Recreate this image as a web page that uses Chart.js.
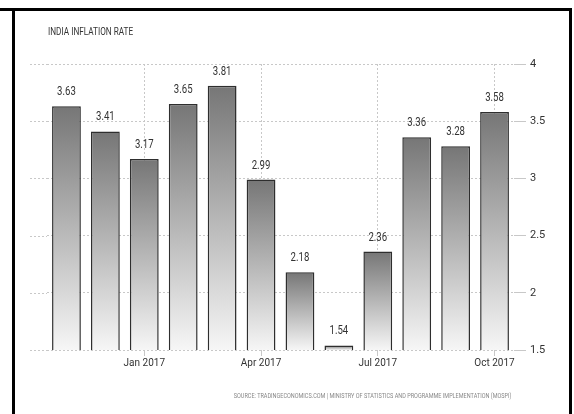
<!DOCTYPE html>
<html>
<head>
<meta charset="utf-8">
<script src="https://cdn.jsdelivr.net/npm/chart.js@4.4.0/dist/chart.umd.min.js"></script>
<style>
  html, body { margin: 0; padding: 0; background: #fff; }
  #wrap { position: relative; width: 574px; height: 414px; overflow: hidden; }
  canvas { position: absolute; left: 0; top: 0; }
  .frame { position: absolute; background: #000; }
  .txt { position: absolute; font-family: "Roboto", "DejaVu Sans", sans-serif; white-space: nowrap; }
  #title { left: 48px; top: 26px; font-size: 10px; color: #333; transform: scaleX(0.82); transform-origin: left top; }
  #source { right: 63px; top: 391px; font-size: 8px; color: #888; transform: scaleX(0.69); transform-origin: right top; }
</style>
</head>
<body>
<div id="wrap">
  <canvas id="chart" width="574" height="414"></canvas>
  <div class="frame" style="left:0;top:8px;width:572px;height:3px"></div>
  <div class="frame" style="left:12px;top:10px;width:3px;height:404px"></div>
  <div class="frame" style="left:569px;top:10px;width:3px;height:404px"></div>
  <div class="txt" id="title">INDIA INFLATION RATE</div>
  <div class="txt" id="source">SOURCE: TRADINGECONOMICS.COM | MINISTRY OF STATISTICS AND PROGRAMME IMPLEMENTATION (MOSPI)</div>
</div>
<script>
const months = ['Nov 2016', 'Dec 2016', 'Jan 2017', 'Feb 2017', 'Mar 2017', 'Apr 2017',
                'May 2017', 'Jun 2017', 'Jul 2017', 'Aug 2017', 'Sep 2017', 'Oct 2017'];
const inflation = [3.63, 3.41, 3.17, 3.65, 3.81, 2.99, 2.18, 1.54, 2.36, 3.36, 3.28, 3.58];
const shownMonths = ['Jan 2017', 'Apr 2017', 'Jul 2017', 'Oct 2017'];
const yTicks = [1.5, 2, 2.5, 3, 3.5, 4];

const FONT = '"Roboto", "DejaVu Sans", sans-serif';
const GRID = '#c8c8c8';

// bar fill: dark at the top of each bar, fading to white at the base
function barFill(c) {
    const chart = c.chart;
    if (!chart.chartArea || !chart.scales.y) return '#999';
    const top = chart.scales.y.getPixelForValue(c.raw);
    const g = chart.ctx.createLinearGradient(0, top, 0, chart.chartArea.bottom);
    g.addColorStop(0, '#767676');
    g.addColorStop(1, '#f6f6f6');
    return g;
}

// horizontal gridlines also run a bit left of the plot
const gridExtend = {
    id: 'gridExtend',
    beforeDatasetsDraw(chart) {
        const c = chart.ctx, y = chart.scales.y, a = chart.chartArea;
        c.save();
        c.strokeStyle = GRID; c.lineWidth = 1; c.setLineDash([2, 2]);
        yTicks.forEach(v => {
            const py = Math.round(y.getPixelForValue(v)) + 0.5;
            c.beginPath(); c.moveTo(30, py); c.lineTo(a.left, py); c.stroke();
        });
        c.restore();
    }
};

// value above each bar, squeezed a little to look like the narrow original font
const valueLabels = {
    id: 'valueLabels',
    afterDatasetsDraw(chart) {
        const c = chart.ctx;
        chart.getDatasetMeta(0).data.forEach((bar, i) => {
            c.save();
            c.translate(bar.x, bar.y - 8);
            c.scale(0.8, 1);
            c.font = '12px ' + FONT;
            c.fillStyle = '#333';
            c.textAlign = 'center';
            c.textBaseline = 'bottom';
            c.fillText(inflation[i].toFixed(2), 0, 0);
            c.restore();
        });
    }
};

new Chart(document.getElementById('chart'), {
    type: 'bar',
    data: {
        labels: months,
        datasets: [{
            data: inflation,
            backgroundColor: barFill,
            borderColor: '#2e2e2e',
            borderWidth: 1.5,
            borderSkipped: false,
            barPercentage: 0.74,
            categoryPercentage: 1
        }]
    },
    options: {
        responsive: false,
        animation: false,
        layout: { padding: { left: 47, top: 64, right: 15, bottom: 0 } },
        plugins: { legend: { display: false }, tooltip: { enabled: false } },
        scales: {
            x: {
                afterFit: s => { s.height = 64; },
                border: { display: false, dash: [2, 2] },
                grid: {
                    offset: false,
                    color: c => shownMonths.includes(months[c.index]) ? GRID : 'rgba(0,0,0,0)',
                    tickColor: c => shownMonths.includes(months[c.index]) ? GRID : 'rgba(0,0,0,0)',
                    tickLength: 6,
                    lineWidth: 1
                },
                ticks: {
                    autoSkip: false, maxRotation: 0, padding: 1,
                    color: '#333', font: { family: FONT, size: 10 },
                    callback: (v, i) => shownMonths.includes(months[i]) ? months[i] : ''
                }
            },
            y: {
                position: 'right',
                min: 1.5, max: 4,
                afterFit: s => { s.width = 45; },
                border: { display: false, dash: [2, 2] },
                grid: { color: GRID, tickLength: 12, lineWidth: 1 },
                ticks: {
                    stepSize: 0.5, padding: 4,
                    color: '#333', font: { family: FONT, size: 11 },
                    callback: v => String(+v)
                }
            }
        }
    },
    plugins: [gridExtend, valueLabels]
});
</script>
</body>
</html>
